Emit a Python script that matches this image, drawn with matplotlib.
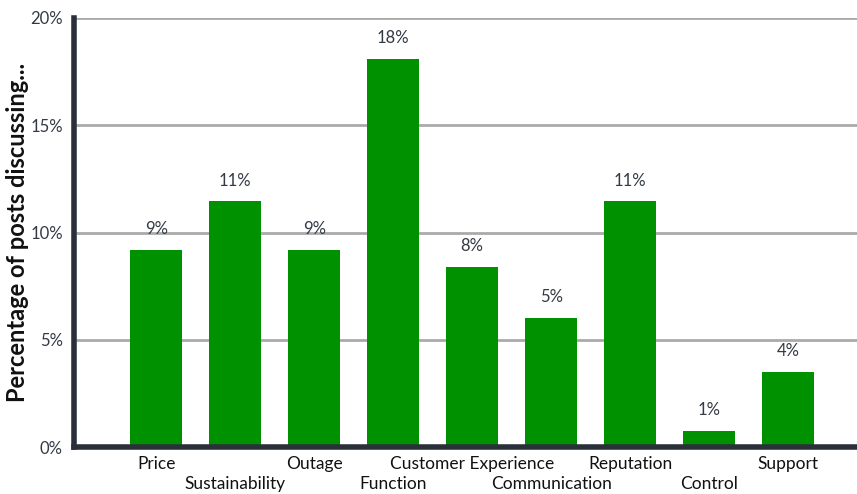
import matplotlib
matplotlib.use("Agg")
import matplotlib.pyplot as plt
import numpy as np

plt.rcParams['font.family'] = ['Lato', 'DejaVu Sans']

categories = ["Price", "Sustainability", "Outage", "Function", "Customer Experience",
              "Communication", "Reputation", "Control", "Support"]
values = [9.2, 11.45, 9.2, 18.1, 8.4, 6.0, 11.45, 0.75, 3.5]
labels = ["9%", "11%", "9%", "18%", "8%", "5%", "11%", "1%", "4%"]
yticks = [0, 5, 10, 15, 20]

fig = plt.figure(figsize=(8.57, 4.94), dpi=100)
ax = fig.add_axes([0.0863, 0.0951, 0.9137, 0.8685])

x = np.arange(len(categories))
bars = ax.bar(x, values, width=0.66, color="#009100", zorder=3)

for xi, v, lab in zip(x, values, labels):
    ax.text(xi, v + 0.6, lab, ha="center", va="bottom", fontsize=12, color="#333a45")

ax.set_xlim(-1.04, 8.87)
ax.set_ylim(0, 20)
ax.set_yticks(yticks)
ax.set_yticklabels([f"{t}%" for t in yticks], fontsize=12, color="#333a45")
ax.yaxis.grid(True, color="#aaaaaa", linewidth=2, zorder=0)
ax.tick_params(axis="y", length=0, pad=8)

ax.set_xticks(x)
ax.set_xticklabels([])
ax.tick_params(axis="x", length=0)
for i, c in enumerate(x):
    off = 0.022 if i % 2 == 0 else 0.068
    ax.text(c, -off, categories[i], transform=ax.get_xaxis_transform(),
            ha="center", va="top", fontsize=12.5, color="#111111")

for s in ["top", "right"]:
    ax.spines[s].set_visible(False)
for s in ["left", "bottom"]:
    ax.spines[s].set_color("#2a2f3a")
    ax.spines[s].set_linewidth(4)
    ax.spines[s].set_zorder(4)

ax.set_ylabel("Percentage of posts discussing...", fontsize=17, fontweight="bold",
              color="#111111", labelpad=1)

fig.savefig("out.png", dpi=100)
